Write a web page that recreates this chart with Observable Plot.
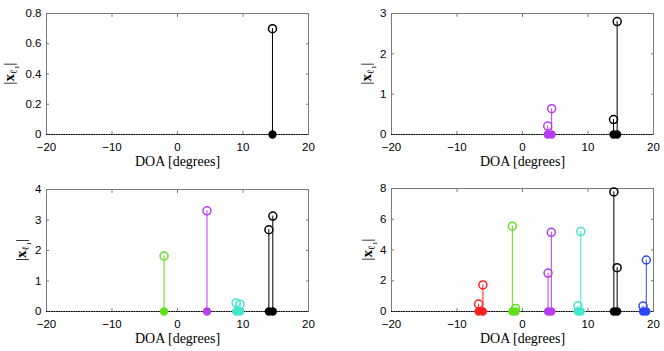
<!DOCTYPE html>
<html><head><meta charset="utf-8">
<script src="https://cdn.jsdelivr.net/npm/d3@7"></script>
<script src="https://cdn.jsdelivr.net/npm/@observablehq/plot@0.6"></script>
<style>
body{margin:0;background:#fff;}
#grid{display:grid;grid-template-columns:332px 332px;width:664px;}
#grid svg{display:block;}
</style></head><body><div id="grid"></div>
<script>
// ---- data ----
const xTicks = [-20, -10, 0, 10, 20];
const groupNames = ["r", "g", "m", "c", "k", "b"];
const groupColors = ["#ff2020", "#5ee01a", "#b83cf0", "#44e6cc", "#000000", "#2a48ff"];

const p1DOA = [14.5];
const p1Amp = [0.70];
const p1Grp = ["k"];
const p1YTicks = [0, 0.2, 0.4, 0.6, 0.8];

const p2DOA = [3.85, 4.45, 13.9, 14.45];
const p2Amp = [0.21, 0.64, 0.37, 2.80];
const p2Grp = ["m", "m", "k", "k"];
const p2YTicks = [0, 1, 2, 3];

const p3DOA = [-2.05, 4.5, 8.95, 9.55, 13.95, 14.55];
const p3Amp = [1.82, 3.30, 0.28, 0.24, 2.68, 3.13];
const p3Grp = ["g", "m", "c", "c", "k", "k"];
const p3YTicks = [0, 1, 2, 3, 4];

const p4DOA = [-6.7, -6.05, -1.55, -1.05, 3.9, 4.4, 8.45, 8.9, 13.95, 14.45, 18.4, 18.9];
const p4Amp = [0.48, 1.73, 5.55, 0.20, 2.50, 5.15, 0.37, 5.20, 7.78, 2.85, 0.35, 3.35];
const p4Grp = ["r", "r", "g", "g", "m", "m", "c", "c", "k", "k", "b", "b"];
const p4YTicks = [0, 2, 4, 6, 8];

const xLabel = "DOA [degrees]";

// ---- drawing ----
const frameColor = "#7a7a7a";
const fmt = d3.format("~g");

function panel({doa, amp, grp, yTicks, height, mL, mR, mT, mB, labelX}) {
  const data = doa.map((d, i) => ({doa: d, amp: amp[i], g: grp[i]}));
  const svg = Plot.plot({
    width: 332, height,
    marginLeft: mL, marginRight: mR, marginTop: mT, marginBottom: mB,
    style: {fontFamily: "'Liberation Sans', Arial, sans-serif", fontSize: "11.5px", background: "#fff", overflow: "visible"},
    x: {domain: [xTicks[0], xTicks[xTicks.length - 1]]},
    y: {domain: [yTicks[0], yTicks[yTicks.length - 1]]},
    color: {domain: groupNames, range: groupColors},
    marks: [
      Plot.frame({stroke: frameColor}),
      Plot.axisX(xTicks, {anchor: "bottom", tickSize: -3, tickPadding: 11.5, tickFormat: fmt, stroke: frameColor, fill: "#000", label: null}),
      Plot.axisX(xTicks, {anchor: "top", tickSize: -3, tickFormat: () => "", stroke: frameColor, label: null}),
      Plot.axisY(yTicks, {anchor: "left", tickSize: -3, tickPadding: 8, tickFormat: fmt, stroke: frameColor, fill: "#000", label: null}),
      Plot.axisY(yTicks, {anchor: "right", tickSize: -3, tickFormat: () => "", stroke: frameColor, label: null}),
      Plot.ruleY([0], {stroke: "#000", strokeDasharray: "1.5,1"}),
      Plot.ruleX(data, {x: "doa", y1: 0, y2: "amp", stroke: "g"}),
      Plot.dot(data, {x: "doa", y: 0, r: 3.4, fill: "g", stroke: "g"}),
      Plot.dot(data, {x: "doa", y: "amp", r: 4, stroke: "g", fill: "none"}),
      Plot.text([xLabel], {frameAnchor: "bottom", dy: 31, fontFamily: "'Liberation Serif', 'DejaVu Serif', serif", fontSize: 14})
    ]
  });
  // y label |x_{l1}|
  const yMid = mT + (height - mT - mB) / 2;
  const t = d3.select(svg).append("text")
    .attr("transform", `translate(${labelX},${yMid}) rotate(-90)`)
    .attr("text-anchor", "middle")
    .attr("font-family", "'Liberation Serif', 'DejaVu Serif', serif")
    .attr("font-size", 15)
    .attr("fill", "#000");
  t.append("tspan").text("|");
  t.append("tspan").attr("font-weight", "bold").text("x");
  t.append("tspan").attr("font-size", 10).attr("dy", 3).text("ℓ");
  t.append("tspan").attr("font-size", 7).attr("dy", 1.5).text("1");
  t.append("tspan").attr("dy", -4.5).text("|");
  return svg;
}

const grid = document.getElementById("grid");
grid.append(panel({doa: p1DOA, amp: p1Amp, grp: p1Grp, yTicks: p1YTicks, height: 175, mL: 46, mR: 24, mT: 13, mB: 41, labelX: 14}));
grid.append(panel({doa: p2DOA, amp: p2Amp, grp: p2Grp, yTicks: p2YTicks, height: 175, mL: 59, mR: 11, mT: 13, mB: 41, labelX: 39}));
grid.append(panel({doa: p3DOA, amp: p3Amp, grp: p3Grp, yTicks: p3YTicks, height: 176, mL: 46, mR: 24, mT: 14, mB: 40, labelX: 26}));
grid.append(panel({doa: p4DOA, amp: p4Amp, grp: p4Grp, yTicks: p4YTicks, height: 176, mL: 59, mR: 11, mT: 13, mB: 40, labelX: 40}));
</script>
</body></html>
